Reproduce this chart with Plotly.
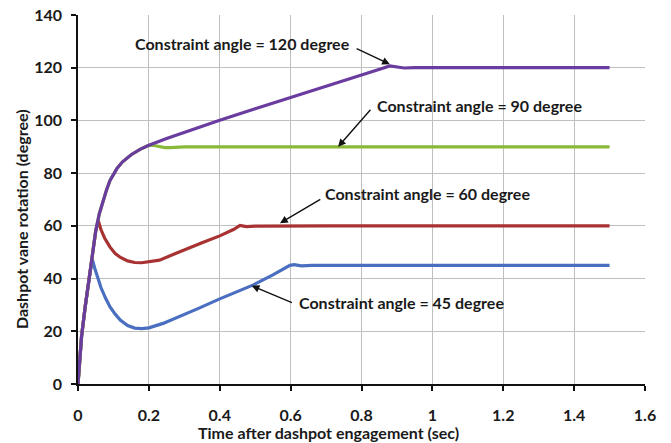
import plotly.graph_objects as go

# ---- data ----
t_120 = [0, 0.004, 0.01, 0.02, 0.03, 0.04, 0.05, 0.06, 0.07, 0.08, 0.09, 0.1, 0.11, 0.125, 0.14, 0.15, 0.175, 0.2,
         0.25, 0.3, 0.35, 0.4, 0.5, 0.6, 0.7, 0.8, 0.86, 0.88, 0.9, 0.92, 0.95, 1.0, 1.2, 1.5]
y_120 = [0, 8, 18, 29, 38, 48, 58, 64.5, 69.2, 73.4, 77.1, 79.7, 81.8, 84.2, 86.0, 87.0, 89.0, 90.6,
         93.1, 95.5, 97.9, 100.1, 104.4, 108.6, 112.8, 117.0, 119.8, 120.7, 120.4, 119.9, 120, 120, 120, 120]

t_90 = [0, 0.004, 0.01, 0.02, 0.03, 0.04, 0.05, 0.06, 0.07, 0.08, 0.09, 0.1, 0.11, 0.125, 0.14, 0.15, 0.175, 0.2,
        0.215, 0.23, 0.245, 0.26, 0.28, 0.3, 0.5, 1.0, 1.5]
y_90 = [0, 8, 18, 29, 38, 48, 58, 64.5, 69.2, 73.4, 77.1, 79.7, 81.8, 84.2, 86.0, 87.0, 89.0, 90.6,
        90.5, 90.1, 89.7, 89.7, 89.9, 90, 90, 90, 90]

t_60 = [0, 0.004, 0.01, 0.02, 0.03, 0.04, 0.05, 0.057, 0.065, 0.075, 0.09, 0.105, 0.12, 0.14, 0.16, 0.18, 0.2,
        0.23, 0.27, 0.307, 0.35, 0.4, 0.44, 0.457, 0.475, 0.5, 0.55, 0.7, 1.0, 1.5]
y_60 = [0, 8, 18, 29, 38, 48, 58, 62.0, 58.5, 55.4, 52.0, 49.5, 48.0, 46.7, 46.1, 46.0, 46.3,
        47.0, 49.2, 51.3, 53.6, 56.2, 58.7, 60.2, 59.7, 59.9, 60, 60, 60, 60]

t_45 = [0, 0.004, 0.01, 0.02, 0.03, 0.04, 0.047, 0.055, 0.065, 0.078, 0.09, 0.105, 0.12, 0.14, 0.16, 0.18, 0.2,
        0.24, 0.288, 0.34, 0.4, 0.45, 0.495, 0.55, 0.598, 0.61, 0.63, 0.66, 0.8, 1.0, 1.5]
y_45 = [0, 8, 18, 29, 38, 47.5, 44.0, 40.5, 36.5, 32.5, 29.3, 26.5, 24.2, 22.2, 21.2, 21.0, 21.3,
        23.0, 25.6, 28.7, 32.3, 35.0, 37.6, 41.4, 45.0, 45.3, 44.8, 45, 45, 45, 45]

labels = ["Constraint angle = 120 degree", "Constraint angle = 90 degree",
          "Constraint angle = 60 degree", "Constraint angle = 45 degree"]

x_ticks = [0, 0.2, 0.4, 0.6, 0.8, 1, 1.2, 1.4, 1.6]
x_tick_text = ["0", "0.2", "0.4", "0.6", "0.8", "1", "1.2", "1.4", "1.6"]
y_ticks = [0, 20, 40, 60, 80, 100, 120, 140]

FONT = "Lato"
TXT = "#1a1a1a"
FS = 16

fig = go.Figure()
series = [
    (t_45, y_45, "#4a6ec0", labels[3]),
    (t_60, y_60, "#a83232", labels[2]),
    (t_90, y_90, "#8ab83a", labels[1]),
    (t_120, y_120, "#6a3ca0", labels[0]),
]
for t, y, c, name in series:
    fig.add_trace(go.Scatter(x=t, y=y, mode="lines", name=name,
                             line=dict(color=c, width=3.2)))

# text labels (left-anchored) and arrows
texts = [
    (0.155, 129.0, labels[0]),
    (0.838, 105.5, labels[1]),
    (0.691, 72.1, labels[2]),
    (0.618, 31.1, labels[3]),
]
for x, y, s in texts:
    fig.add_annotation(x=x, y=y, text="<b>%s</b>" % s, showarrow=False,
                       xanchor="left", yanchor="middle",
                       font=dict(family=FONT, size=FS, color=TXT))

arrows = [
    (0.880, 121.3, 0.782, 127.5),
    (0.734, 90.0, 0.829, 104.6),
    (0.570, 61.0, 0.688, 70.4),
    (0.490, 37.3, 0.608, 30.6),
]
for x, y, ax, ay in arrows:
    fig.add_annotation(x=x, y=y, ax=ax, ay=ay, axref="x", ayref="y", text="",
                       showarrow=True, arrowhead=2, arrowsize=1.1, arrowwidth=1.4,
                       arrowcolor="#111111", standoff=0, startstandoff=0)

# axis titles
fig.add_annotation(x=(328 - 78) / 567, y=-48 / 369, xref="paper", yref="paper",
                   text="<b>Time after dashpot engagement (sec)</b>", showarrow=False,
                   xanchor="center", yanchor="middle",
                   font=dict(family=FONT, size=FS, color=TXT))
fig.add_annotation(x=-57 / 567, y=(384 - 219) / 369, xref="paper", yref="paper",
                   text="<b>Dashpot vane rotation (degree)</b>", showarrow=False,
                   textangle=-90, xanchor="center", yanchor="middle",
                   font=dict(family=FONT, size=FS, color=TXT))

fig.update_layout(
    width=671, height=443,
    margin=dict(l=78, r=26, t=15, b=59, autoexpand=False),
    paper_bgcolor="white", plot_bgcolor="white",
    showlegend=False,
    font=dict(family=FONT, size=FS, color=TXT),
)
fig.update_xaxes(range=[0, 1.6], tickvals=x_ticks, ticktext=["<b>%s</b>" % s for s in x_tick_text],
                 showgrid=True, gridcolor="#bfbfbf", gridwidth=1,
                 showline=True, linecolor="#111111", linewidth=1.5,
                 ticks="outside", ticklen=5, tickcolor="#111111", tickwidth=1.5,
                 ticklabelstandoff=11, zeroline=False, automargin=False)
fig.update_yaxes(range=[0, 140], tickvals=y_ticks, ticktext=["<b>%d</b>" % v for v in y_ticks],
                 showgrid=True, gridcolor="#bfbfbf", gridwidth=1,
                 showline=True, linecolor="#111111", linewidth=1.5,
                 ticks="outside", ticklen=5, tickcolor="#111111", tickwidth=1.5,
                 ticklabelstandoff=6, zeroline=False, automargin=False)

fig.write_html("out.html")
